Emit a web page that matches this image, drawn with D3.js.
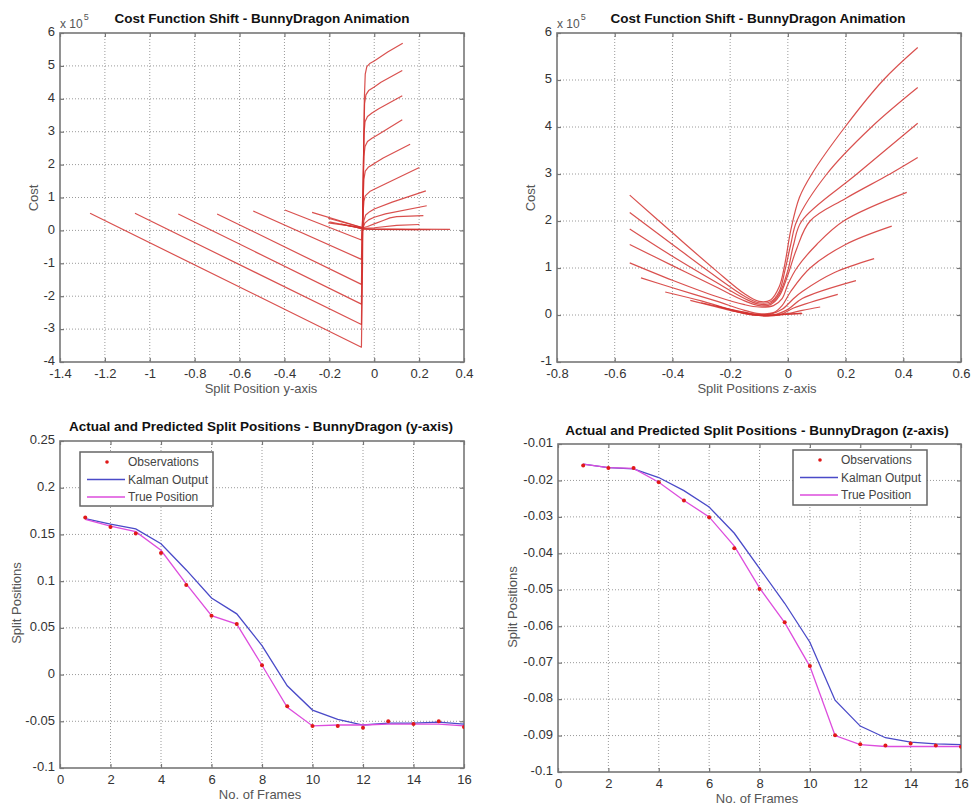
<!DOCTYPE html>
<html><head><meta charset="utf-8">
<script src="https://cdn.jsdelivr.net/npm/d3@7"></script>
<style>
body{margin:0;background:#fff}
svg{display:block}
text{font-family:"Liberation Sans",Arial,sans-serif}
</style>
</head><body>
<svg id="c" width="973" height="809"></svg>
<script>
// ---------------- DATA ----------------
// Top-left: cost curves vs split position (y-axis), cost in units of 1e5
const yAxisCostCurves = [
  [[-1.266,0.52],[-0.057,-3.55],[-0.052,-1.0],[-0.048,2.0],[-0.044,4.0],[-0.040,4.75],[-0.033,4.98],[-0.02,5.07],[0.0,5.15],[0.06,5.42],[0.127,5.69]],
  [[-1.066,0.52],[-0.057,-2.86],[-0.052,0.0],[-0.047,2.5],[-0.043,3.85],[-0.037,4.12],[-0.025,4.25],[0.0,4.36],[0.03,4.5],[0.125,4.86]],
  [[-0.873,0.50],[-0.057,-2.24],[-0.050,1.0],[-0.046,2.9],[-0.041,3.3],[-0.03,3.46],[-0.01,3.57],[0.02,3.7],[0.125,4.09]],
  [[-0.700,0.50],[-0.057,-1.64],[-0.050,1.0],[-0.046,2.25],[-0.041,2.55],[-0.03,2.7],[-0.01,2.8],[0.02,2.92],[0.125,3.36]],
  [[-0.539,0.59],[-0.057,-0.88],[-0.050,0.8],[-0.046,1.55],[-0.040,1.8],[-0.025,1.93],[0.0,2.03],[0.04,2.2],[0.160,2.62]],
  [[-0.398,0.62],[-0.057,-0.29],[-0.050,0.5],[-0.046,0.88],[-0.040,1.05],[-0.02,1.18],[0.0,1.25],[0.06,1.45],[0.201,1.91]],
  [[-0.277,0.55],[-0.050,0.08],[-0.046,0.3],[-0.038,0.47],[-0.02,0.57],[0.0,0.65],[0.08,0.86],[0.230,1.20]],
  [[-0.205,0.37],[-0.050,0.08],[-0.042,0.22],[-0.025,0.32],[0.0,0.4],[0.05,0.5],[0.234,0.75]],
  [[-0.205,0.23],[-0.050,0.08],[-0.030,0.12],[0.0,0.2],[0.04,0.3],[0.07,0.38],[0.10,0.42],[0.219,0.45]],
  [[-0.150,0.20],[-0.050,0.06],[0.0,0.08],[0.10,0.15],[0.201,0.18]],
  [[-0.200,0.26],[-0.050,0.05],[0.10,0.04],[0.338,0.03]],
  [[-0.120,0.15],[-0.050,0.05],[0.0,0.03],[0.200,0.02]],
  [[-0.080,0.10],[-0.050,0.04],[0.250,0.02]]
];
// Top-right: cost curves vs split position (z-axis), cost in units of 1e5
const zAxisCostCurves = [
  [[-0.548,2.55],[-0.40,1.75],[-0.25,0.95],[-0.15,0.45],[-0.10,0.29],[-0.06,0.32],[-0.03,0.6],[-0.01,1.1],[0.01,1.8],[0.04,2.5],[0.083,3.0],[0.198,4.0],[0.331,5.0],[0.45,5.69]],
  [[-0.548,2.18],[-0.40,1.50],[-0.25,0.82],[-0.15,0.40],[-0.10,0.26],[-0.06,0.28],[-0.03,0.5],[-0.01,0.95],[0.01,1.5],[0.031,2.0],[0.135,3.0],[0.29,4.0],[0.45,4.84]],
  [[-0.548,1.83],[-0.40,1.25],[-0.25,0.70],[-0.15,0.35],[-0.10,0.23],[-0.06,0.25],[-0.03,0.45],[0.0,0.95],[0.02,1.5],[0.048,2.0],[0.239,3.0],[0.45,4.08]],
  [[-0.548,1.50],[-0.40,1.05],[-0.25,0.60],[-0.15,0.30],[-0.10,0.20],[-0.06,0.22],[-0.03,0.4],[0.0,0.85],[0.03,1.4],[0.077,2.0],[0.20,2.48],[0.354,3.0],[0.45,3.35]],
  [[-0.548,1.11],[-0.40,0.74],[-0.25,0.40],[-0.15,0.22],[-0.10,0.17],[-0.05,0.2],[-0.02,0.35],[0.0,0.65],[0.031,1.0],[0.10,1.5],[0.193,2.0],[0.412,2.61]],
  [[-0.509,0.79],[-0.40,0.58],[-0.25,0.30],[-0.15,0.10],[-0.10,0.03],[-0.05,0.05],[-0.02,0.2],[0.01,0.5],[0.077,1.0],[0.20,1.5],[0.36,1.89]],
  [[-0.425,0.49],[-0.30,0.30],[-0.20,0.12],[-0.12,0.02],[-0.06,0.02],[-0.02,0.12],[0.02,0.35],[0.05,0.5],[0.16,0.9],[0.299,1.20]],
  [[-0.338,0.31],[-0.20,0.10],[-0.12,0.0],[-0.05,0.0],[0.0,0.12],[0.05,0.35],[0.236,0.73]],
  [[-0.250,0.20],[-0.12,0.0],[-0.03,0.0],[0.02,0.15],[0.173,0.44]],
  [[-0.200,0.10],[-0.10,0.0],[0.0,0.03],[0.05,0.1],[0.112,0.17]],
  [[-0.150,0.05],[-0.10,-0.01],[0.048,0.04]],
  [[-0.300,0.26],[-0.15,0.06],[-0.08,-0.01],[0.0,0.02],[0.05,0.03]]
];

const frames = [1,2,3,4,5,6,7,8,9,10,11,12,13,14,15,16];
// Bottom-left (y-axis)
const yObservations = [0.168,0.158,0.151,0.130,0.096,0.063,0.054,0.010,-0.034,-0.055,-0.055,-0.057,-0.050,-0.053,-0.050,-0.056];
const yKalman       = [0.167,0.161,0.156,0.140,0.112,0.082,0.065,0.031,-0.012,-0.038,-0.048,-0.054,-0.052,-0.052,-0.051,-0.053];
const yTrue         = [0.166,0.159,0.153,0.133,0.097,0.063,0.054,0.010,-0.035,-0.055,-0.054,-0.054,-0.053,-0.053,-0.053,-0.055];
// Bottom-right (z-axis)
const zObservations = [-0.0159,-0.0166,-0.0166,-0.0205,-0.0255,-0.0301,-0.0386,-0.0498,-0.0589,-0.0709,-0.0899,-0.0924,-0.0927,-0.0922,-0.0927,-0.0931];
const zKalman       = [-0.0155,-0.0165,-0.0168,-0.0192,-0.0228,-0.0273,-0.0345,-0.0441,-0.0537,-0.0644,-0.0803,-0.0874,-0.0906,-0.0918,-0.0923,-0.0925];
const zTrue         = [-0.0155,-0.0165,-0.0167,-0.0205,-0.0255,-0.0300,-0.0380,-0.0495,-0.0590,-0.0710,-0.0900,-0.0925,-0.0930,-0.0930,-0.0930,-0.0930];

// Tick values / labels
const tlXTicks = [-1.4,-1.2,-1,-0.8,-0.6,-0.4,-0.2,0,0.2,0.4];
const tlYTicks = [-4,-3,-2,-1,0,1,2,3,4,5,6];
const trXTicks = [-0.8,-0.6,-0.4,-0.2,0,0.2,0.4,0.6];
const trYTicks = [-1,0,1,2,3,4,5,6];
const frameTicks = [0,2,4,6,8,10,12,14,16];
const blYTicks = [-0.1,-0.05,0,0.05,0.1,0.15,0.2,0.25];
const brYTicks = [-0.1,-0.09,-0.08,-0.07,-0.06,-0.05,-0.04,-0.03,-0.02,-0.01];

const legendLabels = ["Observations","Kalman Output","True Position"];

// ---------------- DRAWING ----------------
const svg = d3.select("#c");
const fmt = d => String(+(+d).toFixed(3));
const FRAME = "#777", GRID = "#9a9a9a", TICKTXT = "#333", LABTXT = "#555";
const RED = "#d2312f", BLUE = "#4a4ac8", MAG = "#dd4ddd";

let clipId = 0;
function panel(o) {
  const x = d3.scaleLinear().domain(o.xDom).range([o.l, o.r]);
  const y = d3.scaleLinear().domain(o.yDom).range([o.b, o.t]);
  const g = svg.append("g");
  // grid
  g.append("g").selectAll("line").data(o.xTicks.filter(v => v > o.xDom[0] && v < o.xDom[1]))
    .join("line").attr("x1", d => x(d)).attr("x2", d => x(d)).attr("y1", o.t).attr("y2", o.b)
    .attr("stroke", GRID).attr("stroke-width", 1).attr("stroke-dasharray", "1,2");
  g.append("g").selectAll("line").data(o.yTicks.filter(v => v > o.yDom[0] && v < o.yDom[1]))
    .join("line").attr("y1", d => y(d)).attr("y2", d => y(d)).attr("x1", o.l).attr("x2", o.r)
    .attr("stroke", GRID).attr("stroke-width", 1).attr("stroke-dasharray", "1,2");
  // axes
  const ax = (gen, tr, lab) => {
    const a = g.append("g").attr("transform", tr).call(gen);
    a.select(".domain").remove();
    a.selectAll(".tick line").attr("stroke", FRAME).attr("stroke-width", 1.2);
    a.selectAll("text").attr("fill", TICKTXT).style("font-size", "13px")
      .style("font-family", '"Liberation Sans",Arial,sans-serif');
    if (!lab) a.selectAll("text").remove();
    return a;
  };
  ax(d3.axisBottom(x).tickValues(o.xTicks).tickSize(-4).tickPadding(7).tickFormat(fmt), `translate(0,${o.b})`, true);
  ax(d3.axisTop(x).tickValues(o.xTicks).tickSize(-4), `translate(0,${o.t})`, false);
  const la = ax(d3.axisLeft(y).tickValues(o.yTicks).tickSize(-4).tickPadding(5).tickFormat(fmt), `translate(${o.l},0)`, true);
  la.selectAll("text").attr("dy", "0.22em");
  ax(d3.axisRight(y).tickValues(o.yTicks).tickSize(-4), `translate(${o.r},0)`, false);
  // frame
  g.append("rect").attr("x", o.l).attr("y", o.t).attr("width", o.r - o.l).attr("height", o.b - o.t)
    .attr("fill", "none").attr("stroke", FRAME).attr("stroke-width", 1.6);
  // title / labels
  g.append("text").attr("x", o.titleX).attr("y", o.titleY).attr("text-anchor", "middle")
    .style("font-size", "13.5px").style("font-weight", "bold").attr("fill", "#111").text(o.title);
  g.append("text").attr("x", o.xlabX).attr("y", o.xlabY).attr("text-anchor", "middle")
    .style("font-size", "13px").attr("fill", LABTXT).text(o.xlabel);
  g.append("text").attr("transform", `translate(${o.ylabX},${o.ylabY}) rotate(-90)`).attr("text-anchor", "middle")
    .attr("dy", "0.35em").style("font-size", "13px").attr("fill", LABTXT).text(o.ylabel);
  if (o.exp) {
    const t = g.append("text").attr("x", o.l).attr("y", o.t - 5).attr("fill", LABTXT).style("font-size", "12px");
    t.append("tspan").text("x 10");
    t.append("tspan").attr("dy", -8).attr("dx", 1).style("font-size", "9px").text("5");
  }
  // clip
  const id = "clip" + (clipId++);
  svg.append("clipPath").attr("id", id).append("rect")
    .attr("x", o.l).attr("y", o.t).attr("width", o.r - o.l).attr("height", o.b - o.t);
  const plot = g.append("g").attr("clip-path", `url(#${id})`);
  return {x, y, g, plot};
}

// Top-left
{
  const p = panel({l:60, r:464, t:33, b:362, xDom:[-1.4,0.4], yDom:[-4,6], xTicks:tlXTicks, yTicks:tlYTicks,
    title:"Cost Function Shift - BunnyDragon Animation", titleX:262, titleY:23,
    xlabel:"Split Position y-axis", xlabX:261, xlabY:393, ylabel:"Cost", ylabX:33, ylabY:198, exp:true});
  const line = d3.line().x(d => p.x(d[0])).y(d => p.y(d[1])).curve(d3.curveLinear);
  p.plot.selectAll("path.c").data(yAxisCostCurves).join("path").attr("class","c")
    .attr("d", line).attr("fill","none").attr("stroke", RED).attr("stroke-width", 1.2)
    .attr("stroke-linejoin", "round").attr("stroke-opacity", 0.85);
}
// Top-right
{
  const p = panel({l:557, r:961, t:33, b:362, xDom:[-0.8,0.6], yDom:[-1,6], xTicks:trXTicks, yTicks:trYTicks,
    title:"Cost Function Shift - BunnyDragon Animation", titleX:758, titleY:23,
    xlabel:"Split Positions z-axis", xlabX:757, xlabY:393, ylabel:"Cost", ylabX:530, ylabY:198, exp:true});
  const line = d3.line().x(d => p.x(d[0])).y(d => p.y(d[1])).curve(d3.curveCatmullRom.alpha(0.5));
  p.plot.selectAll("path.c").data(zAxisCostCurves).join("path").attr("class","c")
    .attr("d", line).attr("fill","none").attr("stroke", RED).attr("stroke-width", 1.2).attr("stroke-opacity", 0.85);
}

function kalmanPanel(o, obs, kal, tru, leg) {
  const p = panel(o);
  const line = d3.line().x((d,i) => p.x(frames[i])).y(d => p.y(d));
  p.plot.append("path").attr("d", line(kal)).attr("fill","none").attr("stroke", BLUE).attr("stroke-width", 1.3);
  p.plot.append("path").attr("d", line(tru)).attr("fill","none").attr("stroke", MAG).attr("stroke-width", 1.3);
  p.plot.selectAll("circle").data(obs).join("circle")
    .attr("cx", (d,i) => p.x(frames[i])).attr("cy", d => p.y(d)).attr("r", 2).attr("fill", "#e01818");
  // legend
  const lg = p.g.append("g");
  lg.append("rect").attr("x", leg.x).attr("y", leg.y).attr("width", leg.w).attr("height", leg.h)
    .attr("fill", "#fff").attr("stroke", "#666").attr("stroke-width", 1.5);
  const rows = [leg.y + 10, leg.y + 27.5, leg.y + 45];
  lg.append("circle").attr("cx", leg.x + 27).attr("cy", rows[0]).attr("r", 1.8).attr("fill", "#e01818");
  lg.append("line").attr("x1", leg.x + 7).attr("x2", leg.x + 45).attr("y1", rows[1]).attr("y2", rows[1])
    .attr("stroke", BLUE).attr("stroke-width", 1.3);
  lg.append("line").attr("x1", leg.x + 7).attr("x2", leg.x + 45).attr("y1", rows[2]).attr("y2", rows[2])
    .attr("stroke", MAG).attr("stroke-width", 1.3);
  lg.selectAll("text").data(legendLabels).join("text")
    .attr("x", leg.x + 48).attr("y", (d,i) => rows[i]).attr("dy", "0.35em")
    .style("font-size", "12px").attr("fill", "#444").text(d => d);
}

kalmanPanel({l:60, r:464, t:441, b:768, xDom:[0,16], yDom:[-0.1,0.25], xTicks:frameTicks, yTicks:blYTicks,
    title:"Actual and Predicted Split Positions - BunnyDragon (y-axis)", titleX:261, titleY:431,
    xlabel:"No. of Frames", xlabX:260, xlabY:799, ylabel:"Split Positions", ylabX:16, ylabY:603},
  yObservations, yKalman, yTrue, {x:80, y:452, w:133, h:54});

kalmanPanel({l:558, r:961, t:444, b:772, xDom:[0,16], yDom:[-0.1,-0.01], xTicks:frameTicks, yTicks:brYTicks,
    title:"Actual and Predicted Split Positions - BunnyDragon (z-axis)", titleX:757, titleY:435,
    xlabel:"No. of Frames", xlabX:757, xlabY:803, ylabel:"Split Positions", ylabX:512, ylabY:607},
  zObservations, zKalman, zTrue, {x:793, y:450, w:134, h:55});
</script>
</body></html>
